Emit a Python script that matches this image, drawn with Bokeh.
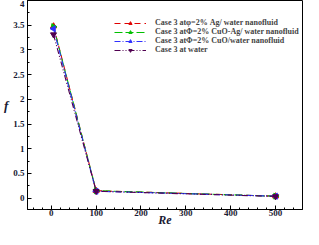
import math
from bokeh.plotting import figure
from bokeh.models import Legend, LegendItem, FixedTicker, Range1d
from bokeh.embed import file_html
from bokeh.resources import INLINE

re_vals = [5, 100, 500]
f_ag = [3.48, 0.15, 0.04]
f_cuoag = [3.47, 0.15, 0.04]
f_cuo = [3.43, 0.14, 0.04]
f_water = [3.31, 0.14, 0.035]

labels = [
    "Case 3 atφ=2% Ag/ water nanofluid",
    "Case 3 atΦ=2% CuO-Ag/ water nanofluid",
    "Case 3 atΦ=2% CuO/water nanofluid",
    "Case 3 at water",
]
x_ticks = [0, 100, 200, 300, 400, 500]
y_ticks = [0, 0.5, 1, 1.5, 2, 2.5, 3, 3.5, 4]
x_title = "Re"
y_title = "f"

FONT = "Liberation Serif"

p = figure(width=303, height=229, output_backend="svg", toolbar_location=None,
           x_range=Range1d(-53, 560), y_range=Range1d(-0.23, 4.0),
           min_border_left=25, min_border_right=1, min_border_top=0, min_border_bottom=0)
p.background_fill_color = "white"
p.border_fill_color = "white"
p.outline_line_color = "black"
p.outline_line_width = 1
p.xgrid.visible = False
p.ygrid.visible = False

series = [
    (f_ag, "#e00000", "6 4", "triangle", 0.0),
    (f_cuoag, "#00c000", "8 3", "triangle", -math.pi / 2),
    (f_cuo, "#3030ff", "6 2 1 2", "triangle", math.pi / 2),
    (f_water, "#500050", "6 2 1 2 1 2", "inverted_triangle", 0.0),
]
items = []
for (vals, col, dash, mk, ang), lab in zip(series, labels):
    l = p.line(re_vals, vals, line_color=col, line_width=1.1, line_dash=dash)
    s = p.scatter(re_vals, vals, marker=mk, angle=ang, size=6, fill_color=col, line_color=col)
    items.append(LegendItem(label=lab, renderers=[l, s]))

legend = Legend(items=items, location=(87, 155), border_line_color=None,
                background_fill_alpha=0, label_text_font=FONT, label_text_font_style="bold",
                label_text_font_size="8px", glyph_width=32, glyph_height=8,
                label_height=8, spacing=0, padding=2, label_standoff=9, margin=0)
p.add_layout(legend)

for ax in (p.xaxis[0], p.yaxis[0]):
    ax.major_tick_in = 4
    ax.major_tick_out = 0
    ax.minor_tick_in = 2
    ax.minor_tick_out = 0
    ax.axis_line_color = "black"
    ax.major_label_text_font = FONT
    ax.major_label_text_font_style = "bold"
    ax.major_label_text_font_size = "9px"
    ax.major_label_text_color = "#1a1a33"
    ax.axis_label_text_font = FONT
    ax.axis_label_text_font_style = "bold italic"
    ax.axis_label_text_color = "#1a1a33"

p.xaxis[0].ticker = FixedTicker(ticks=x_ticks, minor_ticks=list(range(-40, 561, 20)))
p.yaxis[0].ticker = FixedTicker(ticks=y_ticks, minor_ticks=[i * 0.25 for i in range(0, 17)])
p.xaxis[0].major_label_standoff = 0
p.yaxis[0].major_label_standoff = 3
p.xaxis[0].axis_label = x_title
p.xaxis[0].axis_label_text_font_size = "12px"
p.xaxis[0].axis_label_standoff = -6
p.yaxis[0].axis_label = y_title
p.yaxis[0].axis_label_text_font_size = "13px"
p.yaxis[0].axis_label_orientation = "horizontal"
p.yaxis[0].axis_label_standoff = 2

open("out.html", "w").write(file_html(p, INLINE))
